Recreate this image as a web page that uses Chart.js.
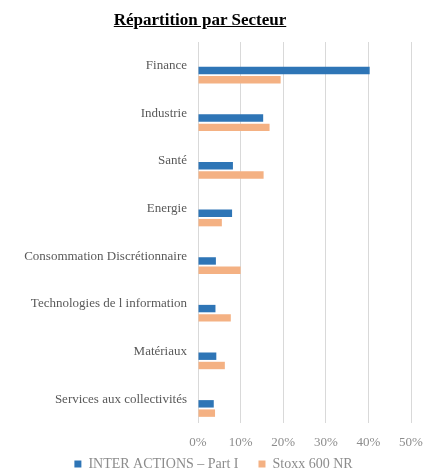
<!DOCTYPE html>
<html>
<head>
<meta charset="utf-8">
<script src="https://cdn.jsdelivr.net/npm/chart.js@4"></script>
<style>
  html, body { margin: 0; padding: 0; background: #fff; }
  #wrap { position: relative; width: 423px; height: 472px; }
  #title {
    position: absolute; top: 10px; left: 0; width: 400px; text-align: center;
    font-family: "Liberation Serif", serif; font-weight: bold; font-size: 17px;
    text-decoration: underline; color: #000;
  }
</style>
</head>
<body>
<div id="wrap">
  <div id="title">Répartition par Secteur</div>
  <canvas id="chart" width="423" height="472"></canvas>
</div>
<script>
// secteurs, du haut vers le bas
const categories = ['Finance', 'Industrie', 'Santé', 'Energie', 'Consommation Discrétionnaire',
  'Technologies de l information', 'Matériaux', 'Services aux collectivités'];
const fund = [40.3, 15.3, 8.2, 8.0, 4.2, 4.1, 4.3, 3.7];
const bench = [19.4, 16.8, 15.4, 5.6, 10.0, 7.7, 6.3, 4.0];
const xTicks = [0, 10, 20, 30, 40, 50];

// two empty series so the bars sit below the label, like in the excel chart
const spacer = categories.map(() => null);

// legend: keep it short in the layout, then move it up a bit so the
// items can keep a wide padding between them
const legendFit = {
  id: 'legendFit',
  beforeLayout(chart) {
    const lg = chart.legend;
    if (lg && !lg._patched) {
      const fit = lg.fit;
      lg.fit = function () { fit.call(this); this.height = 19; };
      lg._patched = true;
    }
  },
  afterLayout(chart) {
    const lg = chart.legend;
    lg.top = chart.height - 35;
    lg.bottom = chart.height;
    lg.height = 35;
    lg.left += 4;
    lg.right += 4;
  }
};

const ctx = document.getElementById('chart').getContext('2d');
new Chart(ctx, {
  type: 'bar',
  data: {
    labels: categories,
    datasets: [
      { label: '_a', data: spacer },
      { label: '_b', data: spacer },
      { label: 'INTER ACTIONS \u2013 Part I', data: fund, backgroundColor: '#2E75B6' },
      { label: 'Stoxx 600 NR', data: bench, backgroundColor: '#F4B183' }
    ]
  },
  options: {
    indexAxis: 'y',
    responsive: false,
    animation: false,
    events: [],
    categoryPercentage: 0.78,
    barPercentage: 0.8,
    layout: { padding: { top: 42, left: 8, right: 12, bottom: 0 } },
    scales: {
      x: {
        min: 0, max: 50,
        afterBuildTicks: axis => { axis.ticks = xTicks.map(v => ({ value: v })); },
        afterFit: axis => { axis.height = 30; axis.paddingRight = 0; axis.paddingLeft = 0; },
        grid: { color: '#d9d9d9', drawTicks: false },
        border: { display: false },
        ticks: {
          padding: 12,
          color: '#8c8c8c',
          font: { family: 'Liberation Serif', size: 13 },
          callback: v => v + '%'
        }
      },
      y: {
        afterFit: axis => { axis.width = 190; },
        grid: { display: false, drawTicks: false },
        border: { display: false },
        ticks: {
          padding: 11,
          color: '#595959',
          font: { family: 'Liberation Serif', size: 13 }
        }
      }
    },
    plugins: {
      tooltip: { enabled: false },
      legend: {
        position: 'bottom',
        labels: {
          filter: item => !item.text.startsWith('_'),
          boxWidth: 7, boxHeight: 7,
          padding: 20,
          color: '#8c8c8c',
          font: { family: 'Liberation Serif', size: 14 }
        }
      }
    }
  },
  plugins: [legendFit]
});
</script>
</body>
</html>
